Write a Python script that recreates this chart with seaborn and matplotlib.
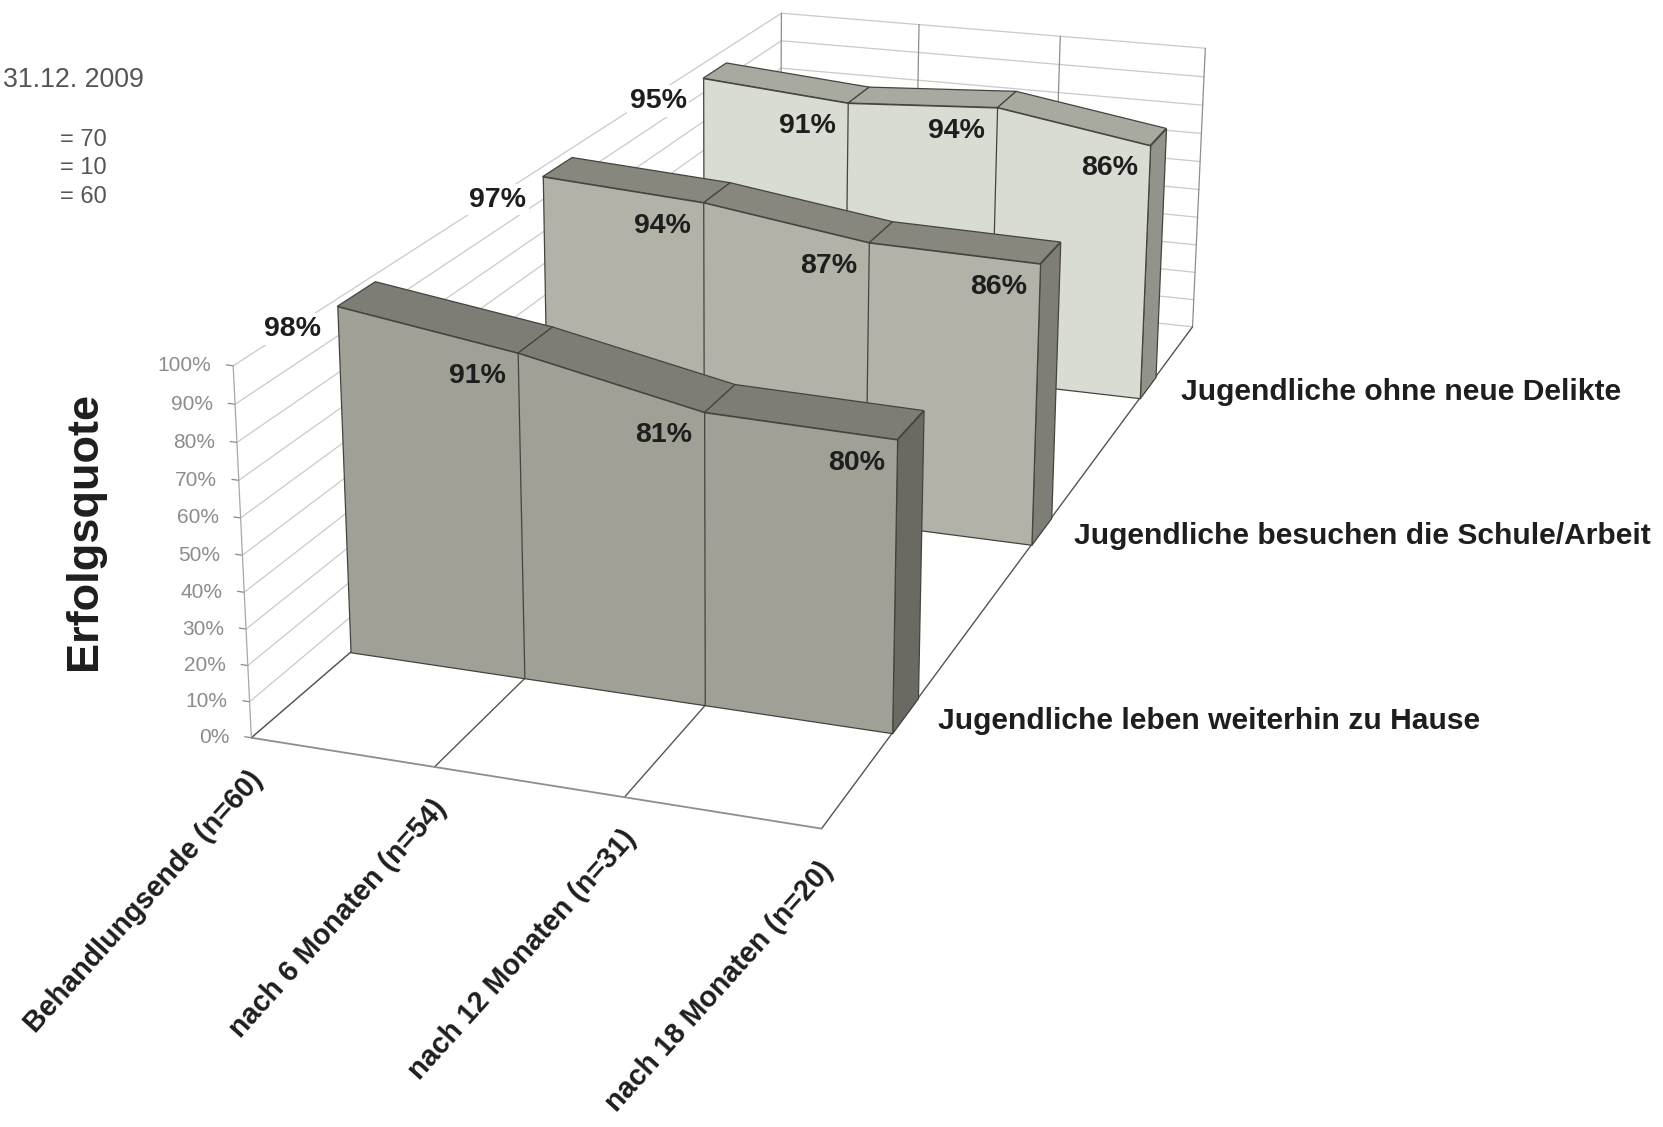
import matplotlib
matplotlib.use("Agg")
import matplotlib.pyplot as plt
import seaborn as sns
from mpl_toolkits.mplot3d import proj3d
from mpl_toolkits.mplot3d.art3d import Poly3DCollection

categories = ["Behandlungsende (n=60)", "nach 6 Monaten (n=54)", "nach 12 Monaten (n=31)", "nach 18 Monaten (n=20)"]
series_names = ["Jugendliche leben weiterhin zu Hause", "Jugendliche besuchen die Schule/Arbeit", "Jugendliche ohne neue Delikte"]
zuhause = [98, 91, 81, 80]
schule = [97, 94, 87, 86]
delikte = [95, 91, 94, 86]
percent_ticks = [0, 10, 20, 30, 40, 50, 60, 70, 80, 90, 100]
notes = ["= 70", "= 10", "= 60"]

face_colors = ["#A0A096", "#B2B2A8", "#D8DCD2"]
top_colors = ["#7D7D75", "#87877D", "#A8AAA0"]
side_colors = ["#6A6A63", "#7E7E76", "#92948B"]

GAP = 0.417  # depth left free on each side of a series band
WIDTH, HEIGHT = 1663, 1127
PX = 0.72  # points per pixel at dpi 100

sns.set_theme(style="white")
plt.rcParams["font.family"] = ["Liberation Sans", "DejaVu Sans"]


def label(ax, text, x, y, z, dx, dy, **kwargs):
    # dx, dy are pixels away from the projected point, dy going down
    px, py, _ = proj3d.proj_transform(x, y, z, ax.get_proj())
    return ax.annotate(text, xy=(px, py), xytext=(dx * PX, -dy * PX), textcoords="offset points", **kwargs)


def add_poly(ax, verts, color, zorder):
    poly = Poly3DCollection(verts, facecolors=color, edgecolors="#44443F", linewidths=0.9)
    poly.set_zorder(zorder)
    ax.add_collection3d(poly, autolim=False)


def draw_walls(ax):
    n = len(categories) - 1
    depth = len(series_names)
    for z in percent_ticks:
        ax.plot([0, 0], [0, depth], [z, z], color="#CACACA", lw=0.9, zorder=1)
        ax.plot([0, n], [depth, depth], [z, z], color="#CACACA", lw=0.9, zorder=1)
        ax.plot([-0.037, 0], [0, 0], [z, z], color="#8A8A8A", lw=0.9, zorder=1)
        label(ax, f"{z}%", 0, 0, z, -22, 0, ha="right", va="center", fontsize=15, color="#8C8C8C", zorder=2)
    for x in range(n + 1):
        ax.plot([x, x], [depth, depth], [0, 100], color="#8E8E8E", lw=0.9, zorder=1)
        ax.plot([x, x], [0, depth], [0, 0], color="#55554F", lw=1.0, zorder=1)
    ax.plot([0, 0], [0, 0], [0, 100], color="#A8A8A8", lw=0.9, zorder=1)
    ax.plot([0, n], [0, 0], [0, 0], color="#8E8E8E", lw=1.3, zorder=1)


def draw_series(ax, i, values, base_z):
    front = i + GAP
    back = i + 1 - GAP
    n = len(values) - 1
    tops = []
    for c in range(n):
        tops.append([(c, front, values[c]), (c + 1, front, values[c + 1]),
                     (c + 1, back, values[c + 1]), (c, back, values[c])])
    add_poly(ax, tops, top_colors[i], base_z)
    side = [[(n, front, values[n]), (n, back, values[n]), (n, back, 0), (n, front, 0)]]
    add_poly(ax, side, side_colors[i], base_z)
    face = [(c, front, v) for c, v in enumerate(values)] + [(n, front, 0), (0, front, 0)]
    add_poly(ax, [face], face_colors[i], base_z + 1)
    for c in range(1, n):
        ax.plot([c, c], [front, front], [0, values[c]], color="#44443F", lw=0.9, zorder=base_z + 2)
    for c, v in enumerate(values):
        box = dict(fc="white", ec="none", pad=2) if c == 0 else None
        label(ax, f"{v}%", c, front, v, -45 if c == 0 else -41, 23, ha="center", va="center",
              fontsize=20.5, fontweight="bold", color="#1E1E1E", zorder=base_z + 3, bbox=box)


fig = plt.figure(figsize=(WIDTH / 100, HEIGHT / 100), dpi=100)
ax = fig.add_subplot(projection="3d", computed_zorder=False)
ax.set_proj_type("persp", focal_length=0.4253)
ax.view_init(elev=18.43, azim=-71.36, roll=-0.40)
ax.set_box_aspect((0.9413, 2.5374, 0.6156))
ax.set_xlim(0, 3, view_margin=0)
ax.set_ylim(0, 3, view_margin=0)
ax.set_zlim(0, 100, view_margin=0)
ax.set_axis_off()
# fitted by hand against the target: 2d view runs from -0.095 to 0.09
side_px = 7945.9 * 0.185
ax.set_position([(797.66 - 7945.9 * 0.095) / WIDTH, (784.12 - 7945.9 * 0.095) / HEIGHT, side_px / WIDTH, side_px / HEIGHT])

draw_walls(ax)
all_values = [zuhause, schule, delikte]
for i in [2, 1, 0]:
    draw_series(ax, i, all_values[i], 10 + (2 - i) * 10)

for c, name in enumerate(categories):
    label(ax, name, c, 0, 0, 7, 37, ha="right", va="center", rotation=48, rotation_mode="anchor",
          fontsize=20.6, fontweight="bold", color="#1E1E1E", zorder=50)
for i, name in enumerate(series_names):
    label(ax, name, 3, i + 0.5, 0, 33, 5, ha="left", va="center", fontsize=21.6, fontweight="bold",
          color="#1E1E1E", zorder=50)

fig.text(84 / WIDTH, 1 - 531 / HEIGHT, "Erfolgsquote", rotation=90, ha="center", va="center",
         fontsize=32.5, fontweight="bold", color="#1E1E1E")
fig.text(3 / WIDTH, 1 - 80 / HEIGHT, "31.12. 2009", ha="left", va="center", fontsize=19.3, color="#555555")
for note, y in zip(notes, [140, 168, 197]):
    fig.text(107 / WIDTH, 1 - y / HEIGHT, note, ha="right", va="center", fontsize=17, color="#555555")

fig.savefig("out.png", dpi=100)
